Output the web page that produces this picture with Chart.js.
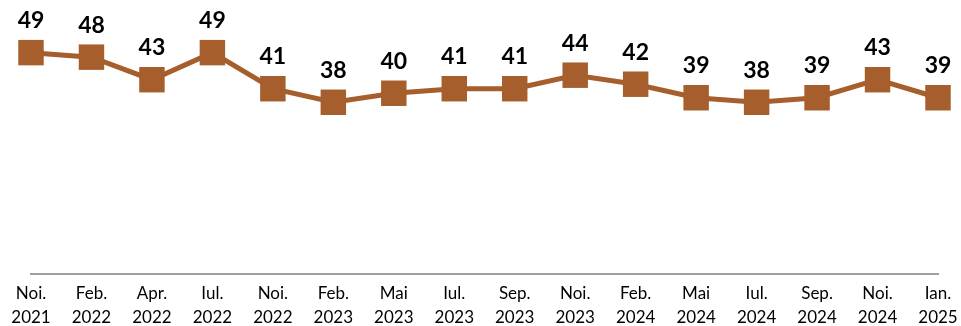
<!DOCTYPE html>
<html>
<head>
<meta charset="utf-8">
<script src="https://cdn.jsdelivr.net/npm/chart.js@4"></script>
<style>
  html, body { margin: 0; padding: 0; background: #fff; }
  #wrap { width: 961px; height: 326px; }
</style>
</head>
<body>
<div id="wrap"><canvas id="chartSerie"></canvas></div>
<script>
const luni = ['Noi.', 'Feb.', 'Apr.', 'Iul.', 'Noi.', 'Feb.', 'Mai', 'Iul.', 'Sep.', 'Noi.', 'Feb.', 'Mai', 'Iul.', 'Sep.', 'Noi.', 'Ian.'];
const ani = ['2021', '2022', '2022', '2022', '2022', '2023', '2023', '2023', '2023', '2023', '2024', '2024', '2024', '2024', '2024', '2025'];
const valori = [49, 48, 43, 49, 41, 38, 40, 41, 41, 44, 42, 39, 38, 39, 43, 39];

const culoare = '#A65E2C';

// etichete deasupra punctelor
const eticheteValori = {
    id: 'eticheteValori',
    afterDatasetsDraw(chart) {
        const ctx = chart.ctx;
        const meta = chart.getDatasetMeta(0);
        ctx.save();
        ctx.font = 'bold 23px Lato, sans-serif';
        ctx.fillStyle = '#000';
        ctx.textAlign = 'center';
        ctx.textBaseline = 'middle';
        meta.data.forEach((pt, i) => {
            ctx.fillText(valori[i], pt.x, pt.y - 32);
        });
        ctx.restore();
    }
};

const ctx = document.getElementById('chartSerie').getContext('2d');

const chartSerie = new Chart(ctx, {
    type: 'line',
    data: {
        labels: luni.map((l, i) => [l, ani[i]]),
        datasets: [{
            data: valori,
            borderColor: culoare,
            backgroundColor: culoare,
            borderWidth: 5,
            pointStyle: 'rect',
            pointRadius: 18,
            pointHoverRadius: 18,
            pointBorderWidth: 0,
            tension: 0,
            clip: false
        }]
    },
    options: {
        responsive: true,
        maintainAspectRatio: false,
        animation: false,
        layout: {
            autoPadding: false,
            padding: { top: 3, left: 31, right: 23, bottom: -4 }
        },
        plugins: {
            legend: { display: false },
            tooltip: { enabled: false }
        },
        scales: {
            x: {
                offset: false,
                grid: { display: false },
                border: { display: true, color: '#A0A0A0', width: 2 },
                ticks: {
                    color: '#000',
                    font: { family: 'Lato, sans-serif', size: 17, lineHeight: 1.42 },
                    padding: 0,
                    maxRotation: 0,
                    autoSkip: false
                }
            },
            y: {
                display: false,
                min: 0,
                max: 60
            }
        }
    },
    plugins: [eticheteValori]
});
</script>
</body>
</html>
